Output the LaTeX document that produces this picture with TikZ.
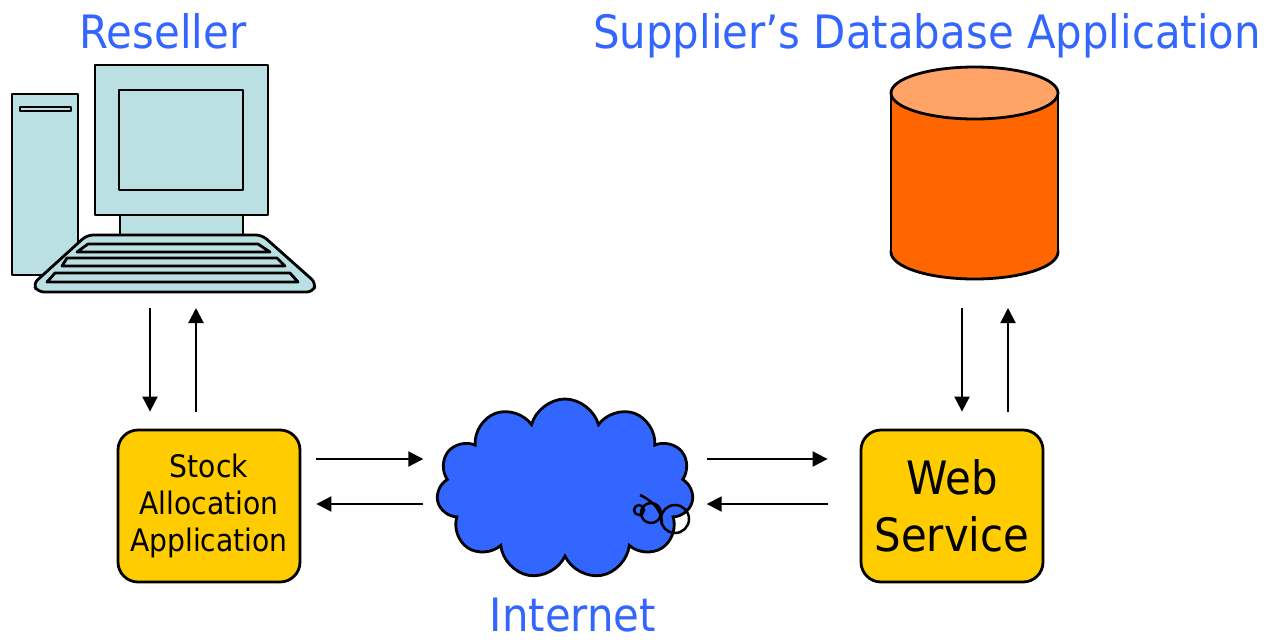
\documentclass[tikz,border=0pt]{standalone}
\usepackage{fontspec}
\setmainfont{DejaVu Sans}[FakeStretch=0.91]
\usetikzlibrary{arrows.meta,shapes.symbols}

\definecolor{titleblue}{HTML}{3366FF}
\definecolor{netblue}{HTML}{3366FF}
\definecolor{pcfill}{HTML}{BBE0E3}
\definecolor{boxfill}{HTML}{FFCC00}
\definecolor{dbtop}{HTML}{FFA366}
\definecolor{dbbody}{HTML}{FF6600}

\begin{document}
\begin{tikzpicture}[x=1pt, y=-1pt,
    title/.style={text=titleblue, font=\fontsize{46}{55}\selectfont, anchor=base},
    appbox/.style={draw, fill=boxfill, line width=2.8, rounded corners=20,
        minimum width=182, minimum height=152, align=center},
    outline/.style={draw, fill=pcfill, line width=2.8, line join=round},
    arr/.style={line width=2, -{Triangle[length=15pt, width=15pt]}}]
    \useasboundingbox (0,0) rectangle (1271,641);

    % Titles
    \node[title] (resellertitle) at (163,48) {Reseller};
    \node[title] (suppliertitle) at (927,48) {Supplier’s Database Application};
    \node[title] (nettitle) at (573,631) {Internet};

    % Reseller computer
    \node[inner sep=0, outer sep=0, minimum width=303, minimum height=227] (pc) at (163.5,178.5) {};
    \path[outline] (12,94) rectangle (78,275);
    \path[outline] (20,107) rectangle (71,111);
    \path[outline] (95,65) rectangle (268,215);
    \path[outline] (119,90) rectangle (243,190);
    \path[outline] (120,215) rectangle (243,235);
    \path[outline, rounded corners=6] (87,235) -- (262,235) -- (316,283) -- (313,292) -- (38,292) -- (33,284) -- cycle;
    \path[outline] (88,244) -- (258,244) -- (270,252) -- (77,252) -- cycle;
    \path[outline] (67,258) -- (277,258) -- (285,266) -- (62,266) -- cycle;
    \path[outline] (55,273) -- (290,273) -- (298,282) -- (47,282) -- cycle;

    % Database
    \node[inner sep=0, outer sep=0, minimum width=167, minimum height=212] (db) at (974.5,173) {};
    \draw[fill=dbbody, line width=2.8] (974.5,252) ellipse [x radius=83.5, y radius=27];
    \fill[dbbody] (891,93) rectangle (1058,252);
    \draw[line width=2.8] (891,93) -- (891,252) (1058,93) -- (1058,252);
    \draw[fill=dbtop, line width=2.8] (974.5,93) ellipse [x radius=83.5, y radius=26];

    % Internet cloud
    \node[cloud, cloud puffs=11, aspect=1.45, draw, fill=netblue, line width=2.8,
        minimum width=257, minimum height=180, inner sep=0] (net) at (565,489) {};
    \draw[line width=2.5] (640,495) .. controls (655,502) and (662,512) .. (662,524);
    \draw[line width=2.5] (639,510) circle (5);
    \draw[line width=2.5] (651,513) circle (10);
    \draw[line width=2.5] (675,519) circle (14);

    % Applications
    \node[appbox, font=\fontsize{31}{37}\selectfont] (stock) at (209,506) {Stock\\Allocation\\Application};
    \node[appbox, font=\fontsize{46}{57}\selectfont] (ws) at (952,506) {Web\\Service};

    % Connectors
    \coordinate (pcdown) at (150,0);
    \coordinate (pcup) at (196,0);
    \coordinate (dbdown) at (962,0);
    \coordinate (dbup) at (1008,0);
    \coordinate (toright) at (0,459);
    \coordinate (toleft) at (0,504);
    \draw[arr, shorten <=16, shorten >=17] (pc.south -| pcdown) -- (stock.north -| pcdown);
    \draw[arr, shorten <=17, shorten >=16] (stock.north -| pcup) -- (pc.south -| pcup);
    \draw[arr, shorten <=29, shorten >=17] (db.south -| dbdown) -- (ws.north -| dbdown);
    \draw[arr, shorten <=17, shorten >=29] (ws.north -| dbup) -- (db.south -| dbup);
    \draw[arr, shorten <=15, shorten >=14] (stock.east |- toright) -- (net.west |- toright);
    \draw[arr, shorten <=14, shorten >=15] (net.west |- toleft) -- (stock.east |- toleft);
    \draw[arr, shorten <=14, shorten >=32] (net.east |- toright) -- (ws.west |- toright);
    \draw[arr, shorten <=32, shorten >=14] (ws.west |- toleft) -- (net.east |- toleft);
\end{tikzpicture}
\end{document}
